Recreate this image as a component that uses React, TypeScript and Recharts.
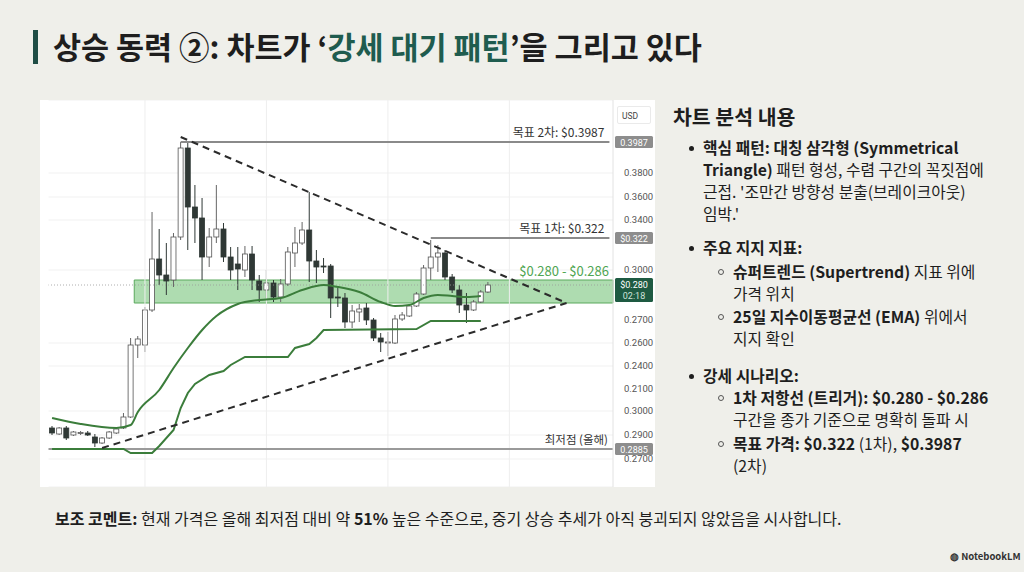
import { ComposedChart, Bar, Line, XAxis, YAxis, CartesianGrid, ReferenceLine, ReferenceArea } from 'recharts';

// candle OHLC (price units)
const openP = [0.1699, 0.1651, 0.1699, 0.1643, 0.1655, 0.1659, 0.1627, 0.1579, 0.1619, 0.1659, 0.1699, 0.1787, 0.2363, 0.2363, 0.2643, 0.3051, 0.2923, 0.2883, 0.3227, 0.3939, 0.3467, 0.3379, 0.3067, 0.3227, 0.3291, 0.3067, 0.3011, 0.2963, 0.3091, 0.2875, 0.2803, 0.2859, 0.2747, 0.2851, 0.3099, 0.3179, 0.3283, 0.3035, 0.2995, 0.2995, 0.2747, 0.2739, 0.2547, 0.2627, 0.2659, 0.2563, 0.2419, 0.2379, 0.2379, 0.2571, 0.2595, 0.2675, 0.2771, 0.2979, 0.3067, 0.3099, 0.2907, 0.2803, 0.2683, 0.2643, 0.2707, 0.2787];
const highP = [0.1715, 0.1707, 0.1715, 0.1675, 0.1675, 0.1675, 0.1651, 0.1627, 0.1675, 0.1699, 0.1819, 0.2419, 0.2435, 0.2667, 0.3427, 0.3291, 0.3179, 0.3259, 0.3987, 0.3987, 0.3643, 0.3539, 0.3299, 0.3643, 0.3339, 0.3147, 0.3147, 0.3155, 0.3155, 0.2923, 0.2963, 0.2883, 0.2891, 0.3147, 0.3307, 0.3347, 0.3587, 0.3123, 0.3059, 0.3011, 0.2819, 0.2779, 0.2683, 0.2691, 0.2699, 0.2579, 0.2459, 0.2467, 0.2603, 0.2627, 0.2691, 0.2787, 0.3003, 0.3203, 0.3163, 0.3123, 0.2931, 0.2843, 0.2779, 0.2723, 0.2803, 0.2867];
const lowP = [0.1643, 0.1643, 0.1603, 0.1635, 0.1643, 0.1635, 0.1547, 0.1571, 0.1611, 0.1651, 0.1691, 0.1779, 0.2259, 0.2307, 0.2627, 0.2843, 0.2763, 0.2827, 0.3203, 0.3123, 0.3179, 0.2883, 0.2987, 0.3179, 0.3027, 0.2883, 0.2803, 0.2907, 0.2803, 0.2707, 0.2739, 0.2707, 0.2707, 0.2835, 0.2987, 0.3163, 0.2867, 0.2859, 0.2939, 0.2579, 0.2667, 0.2499, 0.2499, 0.2547, 0.2523, 0.2395, 0.2307, 0.2275, 0.2371, 0.2555, 0.2587, 0.2667, 0.2763, 0.2883, 0.2947, 0.2883, 0.2779, 0.2619, 0.2539, 0.2635, 0.2699, 0.2779];
const closeP = [0.1659, 0.1699, 0.1619, 0.1667, 0.1663, 0.1643, 0.1579, 0.1619, 0.1667, 0.1691, 0.1787, 0.2363, 0.2411, 0.2643, 0.3051, 0.2923, 0.2875, 0.3227, 0.3939, 0.3467, 0.3379, 0.3067, 0.3227, 0.3291, 0.3067, 0.2963, 0.2971, 0.3091, 0.2883, 0.2803, 0.2859, 0.2747, 0.2851, 0.3107, 0.3179, 0.3283, 0.3035, 0.2987, 0.2987, 0.2739, 0.2739, 0.2547, 0.2635, 0.2651, 0.2563, 0.2419, 0.2387, 0.2387, 0.2571, 0.2603, 0.2675, 0.2771, 0.2979, 0.3067, 0.3099, 0.2907, 0.2803, 0.2683, 0.2643, 0.2707, 0.2787, 0.2843];

// 25-day EMA (sampled points)
const emaIdx = [0, 4, 9, 11, 12, 15, 17, 19, 21, 23, 26, 29, 32, 35, 38, 40, 43, 46, 48, 50, 52, 54, 56, 58, 60];
const emaVal = [0.1779, 0.1731, 0.1699, 0.1723, 0.1827, 0.2003, 0.2179, 0.2339, 0.2483, 0.2595, 0.2691, 0.2723, 0.2739, 0.2803, 0.2843, 0.2827, 0.2787, 0.2707, 0.2675, 0.2683, 0.2739, 0.2763, 0.2755, 0.2747, 0.2755];

// supertrend
const stIdx = [0, 10, 11, 14, 15, 17, 18, 19, 20, 22, 24, 25, 27, 33, 34, 36, 37, 38, 51, 53, 60];
const stVal = [0.1531, 0.1531, 0.1499, 0.1499, 0.1555, 0.1683, 0.1859, 0.1979, 0.2051, 0.2123, 0.2155, 0.2203, 0.2267, 0.2267, 0.2339, 0.2371, 0.2419, 0.2483, 0.2491, 0.2555, 0.2555];

// triangle trendlines
const upperIdx = [18, 72];
const upperVal = [0.4027, 0.2699];
const lowerIdx = [7, 72];
const lowerVal = [0.1539, 0.2699];

const SLOTS = 79;
const TARGET2 = 0.3987;
const TARGET1 = 0.3219;
const PRICE_NOW = 0.2843;
const ZONE_TOP = 0.2883;
const ZONE_BOTTOM = 0.2699;
const YEAR_LOW = 0.1531;

const tickValues = [0.3739, 0.3547, 0.3363, 0.2963, 0.2563, 0.2379, 0.2195, 0.2011, 0.1835, 0.1643, 0.1451];
const tickLabels = ['0.3800', '0.3600', '0.3400', '0.3000', '0.2700', '0.2600', '0.2400', '0.2100', '0.3000', '0.2900', '0.2700'];

const rows = Array.from({ length: SLOTS }, (_, i) => {
  const r: any = { i };
  if (i < openP.length) {
    r.o = openP[i];
    r.h = highP[i];
    r.l = lowP[i];
    r.c = closeP[i];
  }
  const e = emaIdx.indexOf(i);
  if (e >= 0) r.ema = emaVal[e];
  const s = stIdx.indexOf(i);
  if (s >= 0) r.st = stVal[s];
  const u = upperIdx.indexOf(i);
  if (u >= 0) r.upper = upperVal[u];
  const lw = lowerIdx.indexOf(i);
  if (lw >= 0) r.lower = lowerVal[lw];
  return r;
});

function Candle(props: any) {
  const { x, y, width, height, payload } = props;
  if (payload == null || payload.o == null) return null;
  const top = Math.min(y, y + height);
  const span = Math.abs(height);
  const range = payload.h - payload.l || 1;
  const k = span / range;
  const bTop = top + (payload.h - Math.max(payload.o, payload.c)) * k;
  const bBot = top + (payload.h - Math.min(payload.o, payload.c)) * k;
  const up = payload.c >= payload.o;
  const cx = x + width / 2;
  return (
    <g>
      <line x1={cx} x2={cx} y1={top} y2={top + span} stroke={up ? '#666' : '#2f3835'} strokeWidth={1} />
      <rect
        x={x}
        y={bTop}
        width={width}
        height={Math.max(bBot - bTop, 1)}
        fill={up ? '#ffffff' : '#2f3835'}
        stroke={up ? '#555' : '#2f3835'}
        strokeWidth={0.8}
      />
    </g>
  );
}

function PriceTag(props: any) {
  const { viewBox, lines, fill, h, shift } = props;
  if (!viewBox) return null;
  const x = viewBox.x + viewBox.width + 2;
  const y0 = viewBox.y - h / 2 + (shift || 0);
  return (
    <g>
      <rect x={x} y={y0} width={38} height={h} fill={fill} rx={1.5} />
      {lines.map((t: string, k: number) => (
        <text
          key={k}
          x={x + 19}
          y={y0 + 9.5 + k * 11}
          textAnchor="middle"
          fontSize={9}
          fill={k === 0 ? '#ffffff' : '#cfe3da'}
          fontFamily="Roboto, sans-serif"
        >
          {t}
        </text>
      ))}
    </g>
  );
}

function PriceChart() {
  return (
    <ComposedChart
      width={615}
      height={387}
      data={rows}
      margin={{ top: 0, right: 0, bottom: 0, left: 8.5 }}
      barCategoryGap={0}
    >
      <CartesianGrid stroke="#f1f1f1" vertical={false} />
      <XAxis dataKey="i" type="category" hide />
      <YAxis
        orientation="right"
        width={42}
        domain={[0.1227, 0.4323]}
        allowDataOverflow
        ticks={tickValues}
        tickFormatter={(v: number) => tickLabels[tickValues.indexOf(v)] ?? ''}
        tick={{ fontSize: 9.5, fill: '#555', fontFamily: 'Roboto, sans-serif' }}
        tickLine={false}
        tickMargin={5}
        axisLine={{ stroke: '#e2e2e2' }}
      />
      {[13, 30, 47, 64].map((v) => (
        <ReferenceLine key={v} x={v} stroke="#eeeeee" />
      ))}
      <ReferenceLine y={PRICE_NOW} stroke="#9a9a9a" strokeDasharray="1 2" strokeWidth={0.8} />
      <ReferenceArea
        x1={12}
        x2={78}
        y1={ZONE_BOTTOM}
        y2={ZONE_TOP}
        fill="#6cc070"
        fillOpacity={0.55}
        stroke="#5aa95d"
        strokeWidth={1}
        ifOverflow="visible"
      />
      <ReferenceLine
        segment={[{ x: 18, y: TARGET2 }, { x: 78, y: TARGET2 }]}
        stroke="#8a8a8a"
        strokeWidth={2}
        label={{ value: '목표 2차: $0.3987', position: 'insideBottomRight', offset: 5, fontSize: 12, fill: '#333' }}
      />
      <ReferenceLine
        segment={[{ x: 53, y: TARGET1 }, { x: 78, y: TARGET1 }]}
        stroke="#8a8a8a"
        strokeWidth={2}
        label={{ value: '목표 1차: $0.322', position: 'insideBottomRight', offset: 5, fontSize: 12, fill: '#333' }}
      />
      <ReferenceLine
        y={YEAR_LOW}
        stroke="#9a9a9a"
        strokeWidth={2}
        label={{ value: '최저점 (올해)', position: 'insideBottomRight', offset: 5, fontSize: 11.5, fill: '#333' }}
      />
      <ReferenceLine
        y={ZONE_TOP}
        stroke="none"
        label={{ value: '$0.280 - $0.286', position: 'insideBottomRight', offset: 4, fontSize: 13, fill: '#4fa552' }}
      />
      <ReferenceLine y={TARGET2} stroke="none" label={<PriceTag lines={['0.3987']} fill="#8d8d8d" h={12} />} />
      <ReferenceLine y={TARGET1} stroke="none" label={<PriceTag lines={['$0.322']} fill="#8d8d8d" h={12} />} />
      <ReferenceLine y={PRICE_NOW} stroke="none" label={<PriceTag lines={['$0.280', '02:18']} fill="#1e5a42" h={24} shift={5} />} />
      <ReferenceLine y={YEAR_LOW} stroke="none" label={<PriceTag lines={['0.2885']} fill="#8d8d8d" h={12} />} />
      <Bar dataKey={(d: any) => (d.o == null ? null : [d.l, d.h])} barSize={5} shape={<Candle />} isAnimationActive={false} />
      <Line dataKey="st" type="linear" stroke="#3b7d3b" strokeWidth={2} dot={false} connectNulls isAnimationActive={false} />
      <Line dataKey="ema" type="monotone" stroke="#3b7d3b" strokeWidth={2} dot={false} connectNulls isAnimationActive={false} />
      <Line dataKey="upper" type="linear" stroke="#2b2b2b" strokeWidth={2} strokeDasharray="7 5" dot={false} connectNulls isAnimationActive={false} />
      <Line dataKey="lower" type="linear" stroke="#2b2b2b" strokeWidth={2} strokeDasharray="7 5" dot={false} connectNulls isAnimationActive={false} />
    </ComposedChart>
  );
}

const FONT = '"Noto Sans CJK KR", "Noto Sans", sans-serif';
const line = { position: 'absolute' as const, whiteSpace: 'nowrap' as const, lineHeight: '21.5px' };

function Bullet({ left, top }: { left: number; top: number }) {
  return <div style={{ position: 'absolute', left, top, width: 5, height: 5, borderRadius: 3, background: '#1e1e1e' }} />;
}
function Ring({ left, top }: { left: number; top: number }) {
  return <div style={{ position: 'absolute', left, top, width: 4, height: 4, borderRadius: 3, border: '1px solid #555' }} />;
}

export default function App() {
  return (
    <div
      style={{
        position: 'absolute',
        left: 0,
        top: 0,
        width: 1024,
        height: 572,
        background: '#efefea',
        fontFamily: FONT,
        color: '#1e1e1e',
        overflow: 'hidden',
      }}
    >
      <div style={{ position: 'absolute', left: 33, top: 30, width: 5, height: 34, background: '#1f4d45' }} />
      <div style={{ position: 'absolute', left: 53, top: 25, fontSize: 30.5, fontWeight: 700, lineHeight: '42px', whiteSpace: 'nowrap' }}>
        상승 동력 ②: 차트가 ‘<span style={{ color: '#1f5c4f' }}>강세 대기 패턴</span>’을 그리고 있다
      </div>

      <div style={{ position: 'absolute', left: 40, top: 100, width: 615, height: 387, background: '#ffffff' }}>
        <PriceChart />
        <div
          style={{
            position: 'absolute',
            left: 577,
            top: 6,
            width: 34,
            height: 18,
            border: '1px solid #eaeaea',
            borderRadius: 2,
            fontSize: 8.5,
            lineHeight: '18px',
            paddingLeft: 4,
            color: '#444',
            fontFamily: 'Roboto, sans-serif',
            boxSizing: 'border-box',
          }}
        >
          USD
        </div>
      </div>

      <div style={{ position: 'absolute', left: 673, top: 102, fontSize: 20.5, fontWeight: 700, lineHeight: '28px' }}>차트 분석 내용</div>

      <div style={{ fontSize: 15.8 }}>
        <Bullet left={689} top={146} />
        <div style={{ ...line, left: 703, top: 137, lineHeight: '22px' }}>
          <b>핵심 패턴: 대칭 삼각형 (Symmetrical</b>
          <br />
          <b>Triangle)</b> 패턴 형성, 수렴 구간의 꼭짓점에
          <br />
          근접. '조만간 방향성 분출(브레이크아웃)
          <br />
          임박.'
        </div>

        <Bullet left={689} top={246} />
        <div style={{ ...line, left: 703, top: 237 }}>
          <b>주요 지지 지표:</b>
        </div>
        <Ring left={718} top={269} />
        <div style={{ ...line, left: 733, top: 261 }}>
          <b>슈퍼트렌드 (Supertrend)</b> 지표 위에
          <br />
          가격 위치
        </div>
        <Ring left={718} top={314} />
        <div style={{ ...line, left: 733, top: 306 }}>
          <b>25일 지수이동평균선 (EMA)</b> 위에서
          <br />
          지지 확인
        </div>

        <Bullet left={689} top={374} />
        <div style={{ ...line, left: 703, top: 365 }}>
          <b>강세 시나리오:</b>
        </div>
        <Ring left={718} top={395} />
        <div style={{ ...line, left: 733, top: 387 }}>
          <b>1차 저항선 (트리거): $0.280 - $0.286</b>
          <br />
          구간을 종가 기준으로 명확히 돌파 시
        </div>
        <Ring left={718} top={441} />
        <div style={{ ...line, left: 733, top: 433 }}>
          <b>목표 가격: $0.322</b> (1차), <b>$0.3987</b>
          <br />
          (2차)
        </div>
      </div>

      <div style={{ position: 'absolute', left: 55, top: 506, fontSize: 16, lineHeight: '24px', whiteSpace: 'nowrap' }}>
        <b>보조 코멘트:</b> 현재 가격은 올해 최저점 대비 약 <b>51%</b> 높은 수준으로, 중기 상승 추세가 아직 붕괴되지 않았음을 시사합니다.
      </div>

      <div style={{ position: 'absolute', left: 950, top: 549, fontSize: 9.5, fontWeight: 700, whiteSpace: 'nowrap', color: '#333' }}>
        ◍ NotebookLM
      </div>
    </div>
  );
}
